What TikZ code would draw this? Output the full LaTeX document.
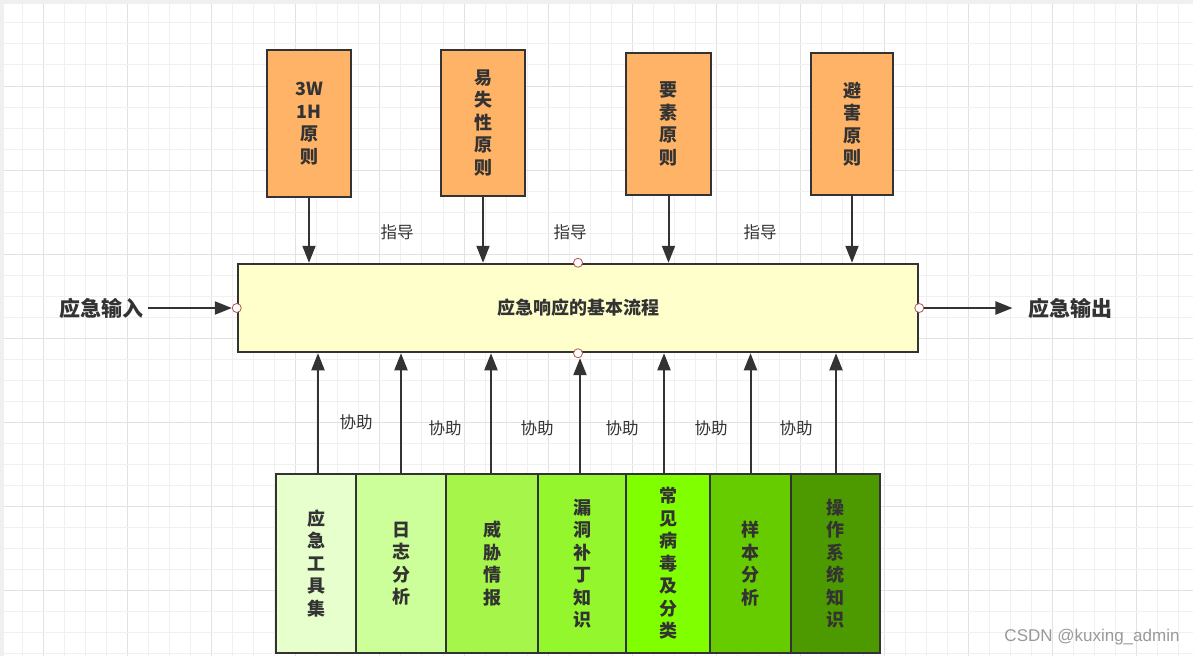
\documentclass[tikz,border=0pt]{standalone}
\usepackage{fontspec}
\newfontfamily\cjk{Noto Sans CJK SC}
\newfontfamily\wmfont{Liberation Sans}
\usetikzlibrary{arrows.meta}
\definecolor{gridminor}{HTML}{F0F0F0}
\definecolor{gridmajor}{HTML}{E2E2E2}
\definecolor{edgegray}{HTML}{333333}
\definecolor{textgray}{HTML}{333333}
\definecolor{orangefill}{HTML}{FFB366}
\definecolor{mainfill}{HTML}{FFFFCC}
\definecolor{portred}{HTML}{B85450}
\definecolor{gA}{HTML}{E6FFCC}
\definecolor{gB}{HTML}{CCFF99}
\definecolor{gC}{HTML}{A6F54A}
\definecolor{gD}{HTML}{94F72E}
\definecolor{gE}{HTML}{80FF00}
\definecolor{gF}{HTML}{66CC00}
\definecolor{gG}{HTML}{4D9900}
\definecolor{wmgray}{HTML}{999999}
\begin{document}
\begin{tikzpicture}[x=1pt,y=-1pt,
  boxstyle/.style={draw=edgegray,line width=2.5pt,inner sep=0pt,align=center,
    text=textgray,font=\cjk\bfseries\fontsize{18}{22.5}\selectfont},
  topbox/.style={boxstyle,fill=orangefill},
  botbox/.style={boxstyle,minimum height=179pt},
  arr/.style={draw=edgegray,line width=2pt,-{Triangle[length=17pt,width=13pt]}},
  port/.style={circle,draw=portred,fill=white,line width=0.8pt,minimum size=9pt,inner sep=0pt},
  lbl/.style={text=textgray,font=\cjk\fontsize{16.5}{18}\selectfont,inner sep=0pt},
  sidelbl/.style={text=textgray,font=\cjk\bfseries\fontsize{21}{24}\selectfont}]
\useasboundingbox (0,0) rectangle (1193,656);
% background
\fill[gridminor] (0,0) rectangle (1193,656);
\fill[white] (4,4) rectangle (1193,656);
\foreach \i in {0,...,56}{
  \pgfmathsetmacro{\xx}{1.58+21.02*\i}
  \pgfmathtruncatemacro{\mm}{mod(\i,4)}
  \ifnum\mm=2
    \draw[gridmajor,line width=1pt] (\xx,4) -- (\xx,656);
  \else
    \draw[gridminor,line width=1pt] (\xx,4) -- (\xx,656);
  \fi}
\foreach \i in {1,...,31}{
  \pgfmathsetmacro{\yy}{1.92+21.02*\i}
  \pgfmathtruncatemacro{\mm}{mod(\i,4)}
  \ifnum\mm=0
    \draw[gridmajor,line width=1pt] (4,\yy) -- (1193,\yy);
  \else
    \draw[gridminor,line width=1pt] (4,\yy) -- (1193,\yy);
  \fi}
% top boxes
\node[topbox,minimum width=84pt,minimum height=147pt] (t1) at (309,123.5) {3W\\1H\\原\\则};
\node[topbox,minimum width=84pt,minimum height=146pt] (t2) at (483,123) {易\\失\\性\\原\\则};
\node[topbox,minimum width=85pt,minimum height=142pt] (t3) at (668.5,124) {要\\素\\原\\则};
\node[topbox,minimum width=82pt,minimum height=142pt] (t4) at (852,124) {避\\害\\原\\则};
% main box
\node[boxstyle,fill=mainfill,minimum width=680pt,minimum height=88pt,
  font=\cjk\bfseries\fontsize{18}{20}\selectfont] (main) at (578,308) {应急响应的基本流程};
\node[port] (pl) at (main.west) {};
\node[port] (pr) at (main.east) {};
\node[port] (pt) at (main.north) {};
\node[port] (pb) at (main.south) {};
% bottom boxes
\node[botbox,fill=gA,minimum width=80pt] (b1) at (316,563.5) {应\\急\\工\\具\\集};
\node[botbox,fill=gB,minimum width=90pt] (b2) at (401,563.5) {日\\志\\分\\析};
\node[botbox,fill=gC,minimum width=92pt] (b3) at (492,563.5) {威\\胁\\情\\报};
\node[botbox,fill=gD,minimum width=88pt] (b4) at (582,563.5) {漏\\洞\\补\\丁\\知\\识};
\node[botbox,fill=gE,minimum width=84pt] (b5) at (668,563.5) {常\\见\\病\\毒\\及\\分\\类};
\node[botbox,fill=gF,minimum width=81pt] (b6) at (750.5,563.5) {样\\本\\分\\析};
\node[botbox,fill=gG,minimum width=89pt] (b7) at (835.5,563.5) {操\\作\\系\\统\\知\\识};
% top arrows
\foreach \t in {t1,t2,t3,t4}{
  \draw[arr] (\t.south) -- (\t.south |- main.north);}
% bottom arrows
\draw[arr] ([xshift=2pt]b1.north) -- ([xshift=2pt]b1.north |- main.south);
\draw[arr] (b2.north) -- (b2.north |- main.south);
\draw[arr] ([xshift=-1pt]b3.north) -- ([xshift=-1pt]b3.north |- main.south);
\draw[arr] ([xshift=-2pt]b4.north) -- ([xshift=-2pt]b4.north |- pb.south);
\draw[arr] ([xshift=-4pt]b5.north) -- ([xshift=-4pt]b5.north |- main.south);
\draw[arr] (b6.north) -- (b6.north |- main.south);
\draw[arr] ([xshift=0.5pt]b7.north) -- ([xshift=0.5pt]b7.north |- main.south);
% side labels
\node[sidelbl,inner xsep=5pt] (in) at (101,308) {应急输入};
\node[sidelbl] (out) at (1070,308) {应急输出};
\draw[arr] (in) -- (pl);
\draw[arr,shorten >=12pt] (pr) -- (out);
% guide labels
\node[lbl] (g1) at (397,232) {指导};
\node[lbl] (g2) at (570,232) {指导};
\node[lbl] (g3) at (760,232) {指导};
\node[lbl] (h1) at (356,422) {协助};
\node[lbl] (h2) at (445,428) {协助};
\node[lbl] (h3) at (537,428) {协助};
\node[lbl] (h4) at (622,428) {协助};
\node[lbl] (h5) at (711,428) {协助};
\node[lbl] (h6) at (796,428) {协助};
% watermark
\node[text=wmgray,font=\wmfont\fontsize{17}{19}\selectfont,inner sep=0pt] (wm) at (1092,637) {CSDN @kuxing\_admin};
\end{tikzpicture}
\end{document}
